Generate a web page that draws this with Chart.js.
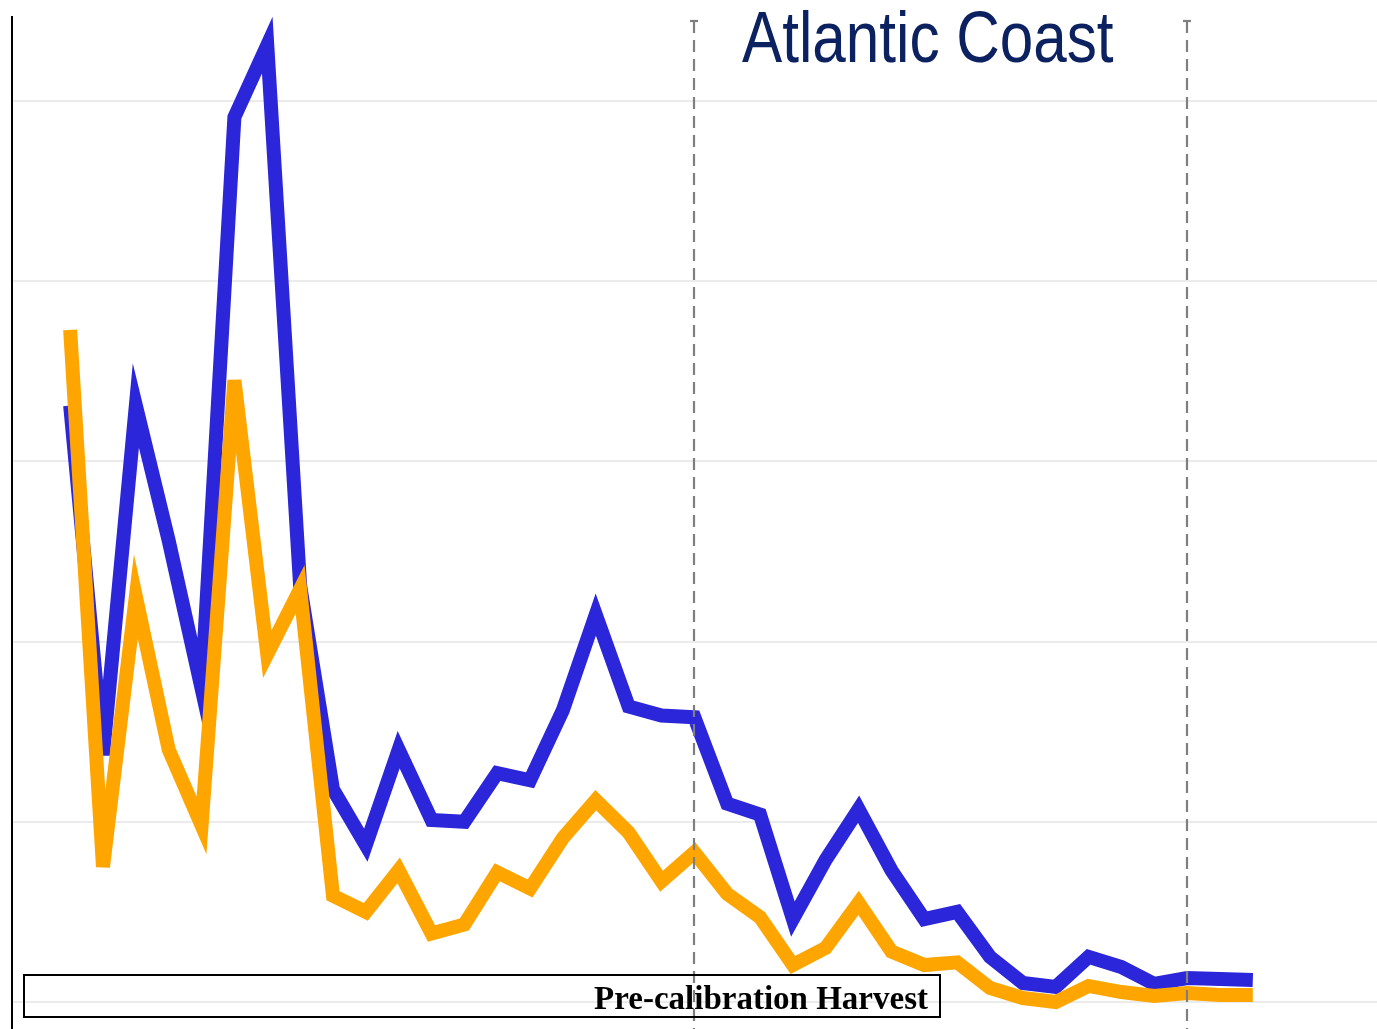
<!DOCTYPE html>
<html>
<head>
<meta charset="utf-8">
<script src="https://cdn.jsdelivr.net/npm/chart.js@4.4.1/dist/chart.umd.min.js"></script>
<style>
  html, body { margin: 0; padding: 0; background: #ffffff; }
  #wrap { width: 1377px; height: 1029px; position: relative; }
</style>
</head>
<body>
<div id="wrap"><canvas id="c" width="1377" height="1029"></canvas></div>
<script>
// ---- data ----
const years = [1981,1982,1983,1984,1985,1986,1987,1988,1989,1990,1991,1992,1993,1994,1995,1996,1997,1998,1999,2000,2001,2002,2003,2004,2005,2006,2007,2008,2009,2010,2011,2012,2013,2014,2015,2016,2017];
const blueSeries = [33.1,13.7,33.1,25.6,17.4,49.1,53.1,23.1,11.8,8.7,14.0,10.1,10.0,12.7,12.3,16.2,21.5,16.4,15.9,15.8,11.0,10.4,4.6,7.9,10.7,7.3,4.6,5.0,2.5,1.05,0.83,2.5,1.94,1.0,1.33,1.28,1.22];
const orangeSeries = [37.3,7.5,22.5,14.0,9.8,34.5,19.3,22.9,5.9,5.0,7.3,3.8,4.3,7.2,6.3,9.1,11.2,9.4,6.7,8.3,6.0,4.7,2.05,3.0,5.5,2.8,2.05,2.2,0.78,0.22,0.0,0.89,0.55,0.33,0.5,0.39,0.39];
const refYears = [2000, 2015];
const titleText = 'Atlantic Coast';
const legendLabel = 'Pre-calibration Harvest';

const toPoints = arr => arr.map((v, i) => ({ x: years[i], y: v }));

const overlayPlugin = {
  id: 'overlay',
  afterDatasetsDraw(chart) {
    const ctx = chart.ctx;
    const xs = chart.scales.x;
    const area = chart.chartArea;
    ctx.save();
    // dashed reference lines
    ctx.strokeStyle = '#7f7f7f';
    ctx.lineWidth = 2.2;
    refYears.forEach(yr => {
      const px = Math.round(xs.getPixelForValue(yr));
      const top = area.top + 4;
      ctx.setLineDash([]);
      ctx.beginPath();
      ctx.moveTo(px - 4, top);
      ctx.lineTo(px + 4, top);
      ctx.stroke();
      ctx.setLineDash([12, 7]);
      ctx.beginPath();
      ctx.moveTo(px, top);
      ctx.lineTo(px, chart.height);
      ctx.stroke();
    });
    ctx.setLineDash([]);
    // title (condensed sans)
    ctx.save();
    ctx.fillStyle = '#0b2160';
    ctx.font = '73px "Liberation Sans", Arial, sans-serif';
    ctx.textAlign = 'left';
    ctx.textBaseline = 'alphabetic';
    ctx.translate(742, 62);
    ctx.scale(0.825, 1);
    ctx.fillText(titleText, 0, 0);
    ctx.restore();
    // legend box
    ctx.strokeStyle = '#000000';
    ctx.lineWidth = 2;
    ctx.strokeRect(24, 975, 916, 42);
    ctx.fillStyle = '#000000';
    ctx.font = 'bold 33px "Liberation Serif", "Times New Roman", serif';
    ctx.textAlign = 'right';
    ctx.fillText(legendLabel, 928, 1009);
    ctx.restore();
  }
};

new Chart(document.getElementById('c'), {
  type: 'line',
  data: {
    datasets: [
      {
        label: 'Harvest',
        data: toPoints(blueSeries),
        borderColor: '#2b26d9',
        backgroundColor: '#2b26d9',
        borderWidth: 14,
        pointRadius: 0,
        tension: 0,
        borderJoinStyle: 'miter',
        borderCapStyle: 'butt',
        fill: false,
        clip: false,
        order: 2
      },
      {
        label: legendLabel,
        data: toPoints(orangeSeries),
        borderColor: '#ffa500',
        backgroundColor: '#ffa500',
        borderWidth: 14,
        pointRadius: 0,
        tension: 0,
        borderJoinStyle: 'miter',
        borderCapStyle: 'butt',
        fill: false,
        clip: false,
        order: 1
      }
    ]
  },
  options: {
    responsive: false,
    animation: false,
    devicePixelRatio: 1,
    layout: { padding: { left: 12, top: 17, right: 0, bottom: 0 } },
    plugins: {
      legend: { display: false },
      title: { display: false },
      tooltip: { enabled: false }
    },
    scales: {
      x: {
        type: 'linear',
        min: 1979.23,
        max: 2020.78,
        ticks: { display: false },
        grid: { display: false, drawTicks: false },
        border: { display: false }
      },
      y: {
        min: -1.5,
        max: 54.66,
        ticks: { display: false, stepSize: 10, includeBounds: false },
        grid: { color: '#ebebeb', lineWidth: 2, drawTicks: false },
        border: { display: true, color: '#000000', width: 2 }
      }
    }
  },
  plugins: [overlayPlugin]
});
</script>
</body>
</html>
